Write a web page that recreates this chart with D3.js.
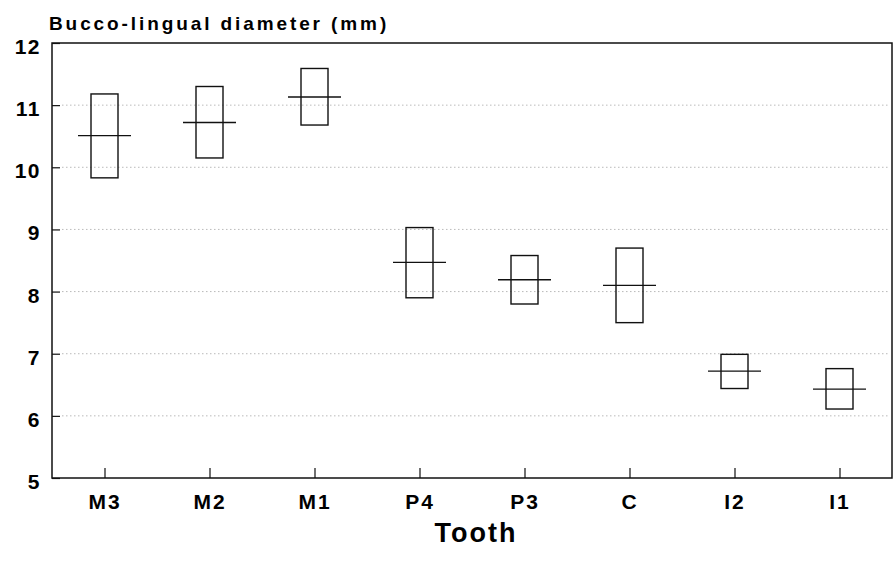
<!DOCTYPE html>
<html>
<head>
<meta charset="utf-8">
<script src="https://cdn.jsdelivr.net/npm/d3@7"></script>
<style>
  body { margin: 0; background: #fff; }
  svg { display: block; font-family: "Liberation Sans", Arial, sans-serif; }
</style>
</head>
<body>
<svg id="chart" width="893" height="562"></svg>
<script>
// tooth categories and the bucco-lingual range / mean per tooth (mm)
const teeth = ["M3", "M2", "M1", "P4", "P3", "C", "I2", "I1"]
const upper = [11.18, 11.30, 11.59, 9.03, 8.58, 8.70, 6.99, 6.76]
const lower = [9.83, 10.15, 10.68, 7.90, 7.80, 7.50, 6.44, 6.11]
const means = [10.51, 10.72, 11.13, 8.47, 8.19, 8.10, 6.72, 6.43]
const yTicks = [5, 6, 7, 8, 9, 10, 11, 12]
const gridVals = [6, 7, 8, 9, 10, 11]

const svg = d3.select("#chart")
const pLeft = 52, pRight = 892, pTop = 43, pBottom = 478

const x = d3.scalePoint()
  .domain(teeth)
  .range([pLeft, pRight])
  .padding(0.5)
const y = d3.scaleLinear()
  .domain([5, 12])
  .range([pBottom, pTop])

// dotted grid lines
svg.append("g")
  .selectAll("line")
  .data(gridVals)
  .join("line")
  .attr("x1", pLeft + 10)
  .attr("x2", pRight - 2)
  .attr("y1", d => y(d))
  .attr("y2", d => y(d))
  .attr("stroke", "#a8a8a8")
  .attr("stroke-width", 0.8)
  .attr("stroke-dasharray", "1.5,2.5")

// y axis, ticks pointing inward
const yAxis = svg.append("g")
  .attr("transform", `translate(${pLeft},0)`)
  .call(d3.axisLeft(y).tickValues(yTicks).tickSize(-8).tickPadding(11).tickFormat(d3.format("d")))
yAxis.select(".domain").remove()
yAxis.selectAll(".tick line").attr("stroke", "#111").attr("stroke-width", 1.2)
yAxis.selectAll(".tick text")
  .attr("dy", "0.5em")
  .attr("fill", "#000")
  .style("font-size", "21px")
  .style("font-weight", "bold")
  .style("letter-spacing", "1.5px")
  .style("font-family", "'Liberation Sans', Arial, sans-serif")

// x axis
const xAxis = svg.append("g")
  .attr("transform", `translate(0,${pBottom})`)
  .call(d3.axisBottom(x).tickSize(-10).tickPadding(16))
xAxis.select(".domain").remove()
xAxis.selectAll(".tick line").attr("stroke", "#111").attr("stroke-width", 1.2)
xAxis.selectAll(".tick text")
  .attr("fill", "#000")
  .style("font-size", "21px")
  .style("font-weight", "bold")
  .style("letter-spacing", "2px")
  .style("font-family", "'Liberation Sans', Arial, sans-serif")

// frame
svg.append("rect")
  .attr("x", pLeft)
  .attr("y", pTop)
  .attr("width", pRight - pLeft)
  .attr("height", pBottom - pTop)
  .attr("fill", "none")
  .attr("stroke", "#111")
  .attr("stroke-width", 1.5)

// range boxes
const boxW = 27, medW = 53
const g = svg.append("g")
g.selectAll("rect.box")
  .data(teeth)
  .join("rect")
  .attr("class", "box")
  .attr("x", d => x(d) - boxW / 2)
  .attr("y", (d, i) => y(upper[i]))
  .attr("width", boxW)
  .attr("height", (d, i) => y(lower[i]) - y(upper[i]))
  .attr("fill", "none")
  .attr("stroke", "#111")
  .attr("stroke-width", 1.4)
g.selectAll("line.mean")
  .data(teeth)
  .join("line")
  .attr("class", "mean")
  .attr("x1", d => x(d) - medW / 2)
  .attr("x2", d => x(d) + medW / 2)
  .attr("y1", (d, i) => y(means[i]))
  .attr("y2", (d, i) => y(means[i]))
  .attr("stroke", "#111")
  .attr("stroke-width", 1.4)

// titles
svg.append("text")
  .attr("x", 49)
  .attr("y", 30)
  .style("font-size", "19px")
  .style("font-weight", "bold")
  .style("letter-spacing", "2.9px")
  .text("Bucco-lingual diameter (mm)")

svg.append("text")
  .attr("x", (pLeft + pRight) / 2 + 4)
  .attr("y", 542)
  .attr("text-anchor", "middle")
  .style("font-size", "27px")
  .style("font-weight", "bold")
  .style("letter-spacing", "2px")
  .text("Tooth")
</script>
</body>
</html>
